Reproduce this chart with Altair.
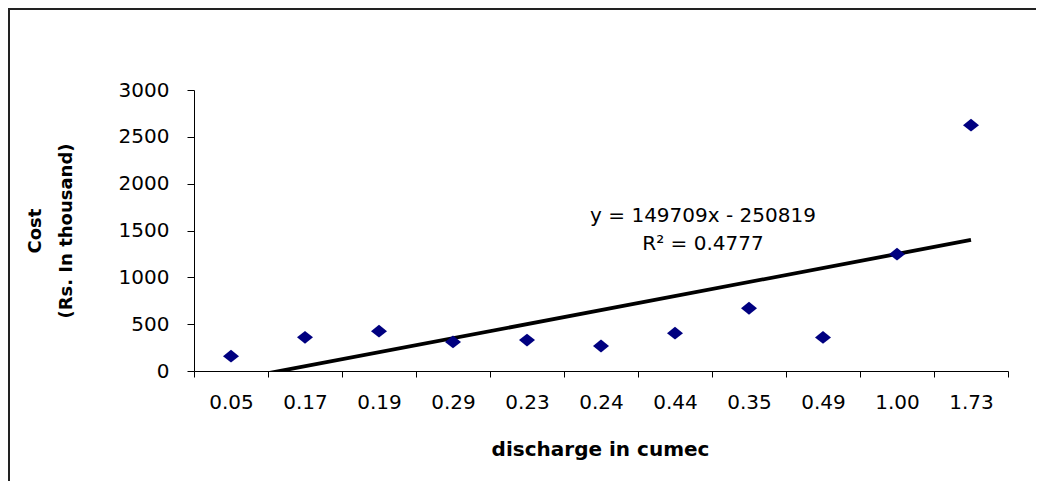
import altair as alt
import pandas as pd

# ---- data ----
categories = ["0.05", "0.17", "0.19", "0.29", "0.23", "0.24", "0.44", "0.35", "0.49", "1.00", "1.73"]
cost = [158, 360, 425, 310, 330, 267, 404, 670, 358, 1247, 2625]
position = list(range(1, len(categories) + 1))
y_ticks = [0, 500, 1000, 1500, 2000, 2500, 3000]
equation = ["y = 149709x - 250819", "R\u00b2 = 0.4777"]
x_title = "discharge in cumec"
y_title = ["Cost", "(Rs. In thousand)"]

df = pd.DataFrame({"k": position, "discharge": categories, "cost": cost})

PLOT_W, PLOT_H = 814, 281
band = PLOT_W / len(categories)
FONT = "DejaVu Sans"

x_bounds = [p - 0.5 for p in position] + [position[-1] + 0.5]
label_js = "[" + ",".join(f"'{c}'" for c in categories) + ",'']"

x_scale = alt.Scale(domain=[0.5, len(categories) + 0.5], nice=False, zero=False)
y_scale = alt.Scale(domain=[0, 3000], nice=False, zero=True)

x_axis = alt.Axis(
    values=x_bounds,
    labelExpr=f"{label_js}[round(datum.value - 0.5)]",
    labelOffset=band / 2,
    labelFlush=False,
    labelOverlap=False,
    grid=False,
    tickSize=6,
    tickColor="black",
    domainColor="black",
    labelFont=FONT,
    labelFontSize=20,
    labelColor="black",
    labelPadding=15,
    titleFont=FONT,
    titleFontSize=20,
    titleFontWeight="bold",
    titleColor="black",
    titleX=PLOT_W / 2 - 1,
    titleY=84,
    titleAlign="center",
    titleBaseline="alphabetic",
)

y_axis = alt.Axis(
    values=y_ticks,
    format="d",
    grid=False,
    tickSize=7,
    tickColor="black",
    domainColor="black",
    labelFont=FONT,
    labelFontSize=20,
    labelColor="black",
    labelPadding=18,
    labelFlush=False,
    labelOverlap=False,
    titleFont=FONT,
    titleFontSize=18,
    titleFontWeight="bold",
    titleColor="black",
    titleAngle=270,
    titleX=-154,
    titleY=PLOT_H / 2,
    titleAlign="center",
    titleBaseline="alphabetic",
    titleLineHeight=31,
)

X = alt.X("k:Q", scale=x_scale, axis=x_axis, title=x_title)
Y = alt.Y("cost:Q", scale=y_scale, axis=y_axis, title=y_title)

base = alt.Chart(df)

points = base.mark_point(
    shape="M-1,0L0,-0.8L1,0L0,0.8Z",
    filled=True,
    size=256,
    color="#000080",
    opacity=1,
    strokeWidth=0,
).encode(x=X, y=Y)

trend = base.transform_regression(
    "k", "cost", method="linear", extent=[position[0], position[-1]]
).mark_line(color="black", strokeWidth=3.8, clip=True).encode(x=X, y=Y)

one = pd.DataFrame({"n": [0]})

eq = alt.Chart(one).mark_text(
    text=equation,
    font=FONT,
    fontSize=20,
    color="black",
    align="center",
    baseline="alphabetic",
    lineHeight=28,
).encode(x=alt.value(509), y=alt.value(132))

# outer chart border (only top and left edges are inside the picture)
frame_top = alt.Chart(one).mark_rule(color="#222222", strokeWidth=2, clip=False).encode(
    x=alt.value(-185), x2=alt.value(900), y=alt.value(-81)
)
frame_left = alt.Chart(one).mark_rule(color="#222222", strokeWidth=2, clip=False).encode(
    x=alt.value(-185), y=alt.value(-82), y2=alt.value(600)
)

chart = alt.layer(frame_top, frame_left, trend, points, eq).properties(
    width=PLOT_W,
    height=PLOT_H,
    autosize=alt.AutoSizeParams(type="none"),
    padding={"left": 186, "top": 82, "right": 28, "bottom": 110},
    background="white",
).configure_view(strokeOpacity=0)

chart.save("out.html", embed_options={"renderer": "svg", "actions": False})
